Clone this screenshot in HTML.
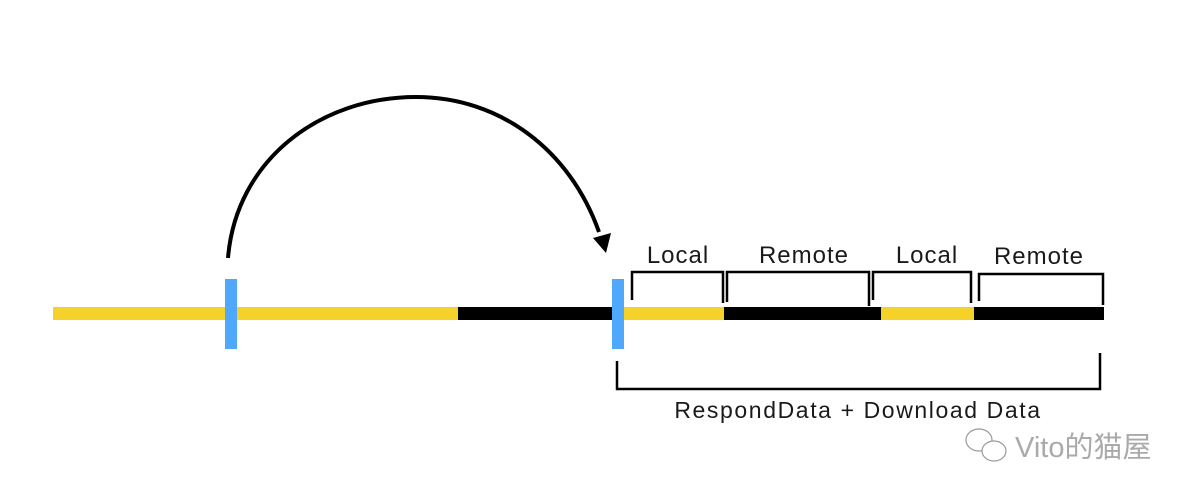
<!DOCTYPE html>
<html><head><meta charset="utf-8"><style>
body{margin:0;background:#fff;}
svg{display:block}
text{font-family:"Liberation Sans","Noto Sans CJK SC",sans-serif;fill:#1a1a1a}
</style></head><body>
<svg width="1200" height="500" viewBox="0 0 1200 500">
<path d="M228,258 C236,160 320,97 416,97 C500,97 570,150 599,232" fill="none" stroke="#000" stroke-width="4"/>
<polygon points="593,238 611,233 606,253" fill="#000"/>
<rect x="53" y="307" width="405" height="13" fill="#f5d22a"/>
<rect x="458" y="307" width="154" height="13" fill="#000"/>
<rect x="612" y="307" width="112" height="13" fill="#f5d22a"/>
<rect x="724" y="307" width="157" height="13" fill="#000"/>
<rect x="881" y="307" width="93" height="13" fill="#f5d22a"/>
<rect x="974" y="307" width="130" height="13" fill="#000"/>
<rect x="225" y="279" width="12" height="70" fill="#4fa8fb"/>
<rect x="612" y="279" width="12" height="70" fill="#4fa8fb"/>
<g fill="none" stroke="#000" stroke-width="2.5">
<path d="M632,300 V272 H723 V303"/>
<path d="M727,302 V272 H869 V306"/>
<path d="M873,300 V272 H971 V303"/>
<path d="M979,301 V274 H1103 V305"/>
<path d="M617,361 V389 H1100 V353"/>
</g>
<g font-size="24" text-anchor="middle" letter-spacing="1">
<text x="678" y="263">Local</text>
<text x="804" y="263">Remote</text>
<text x="927" y="263">Local</text>
<text x="1039" y="264">Remote</text>
<text x="858" y="418" font-size="23" letter-spacing="1.6">RespondData + Download Data</text>
</g>
<g fill="none" stroke="#999" stroke-width="1.2">
<ellipse cx="979" cy="440" rx="13" ry="11"/>
<ellipse cx="994" cy="451" rx="12" ry="10" fill="#fff"/>
</g>
<text x="1015" y="457" font-size="29" style="fill:#aaa">Vito的猫屋</text>
</svg>
</body></html>
